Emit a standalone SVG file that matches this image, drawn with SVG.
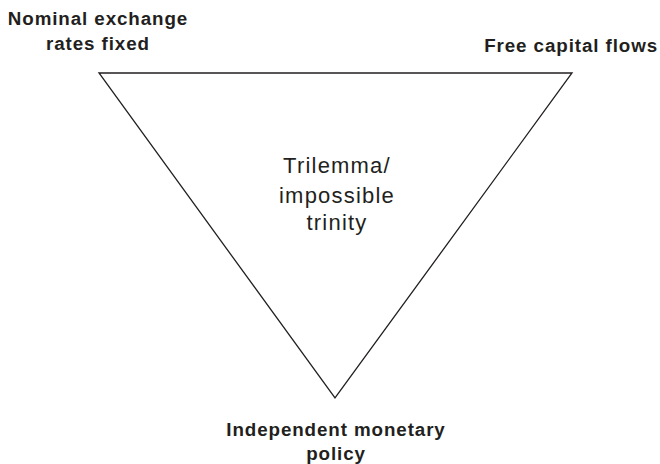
<svg xmlns="http://www.w3.org/2000/svg" width="660" height="464" viewBox="0 0 660 464">
<style>
.lbl{font-family:"Liberation Sans",Arial,sans-serif;font-weight:bold;font-size:18.8px;fill:#231f20;letter-spacing:0.9px}
.ctr{font-family:"Liberation Sans",Arial,sans-serif;font-size:22px;fill:#231f20;letter-spacing:1.2px}
.edge{fill:none;stroke:#231f20;stroke-width:1.3;stroke-linejoin:miter}
</style>
<rect width="660" height="464" fill="#fff"/>
<g id="connectors">
<polygon class="edge" points="99,73 572,73 335,398"/>
</g>
<g id="node-fixed">
<text class="lbl" text-anchor="middle"><tspan x="98" y="25">Nominal exchange</tspan><tspan x="98" y="50">rates fixed</tspan></text>
</g>
<g id="node-capital">
<text class="lbl" text-anchor="end" x="658" y="52">Free capital flows</text>
</g>
<g id="node-center">
<text class="ctr" text-anchor="middle"><tspan x="337" y="173">Trilemma/</tspan><tspan x="337" y="203">impossible</tspan><tspan x="337" y="230">trinity</tspan></text>
</g>
<g id="node-monetary">
<text class="lbl" text-anchor="middle"><tspan x="336" y="436">Independent monetary</tspan><tspan x="336" y="460">policy</tspan></text>
</g>
</svg>
